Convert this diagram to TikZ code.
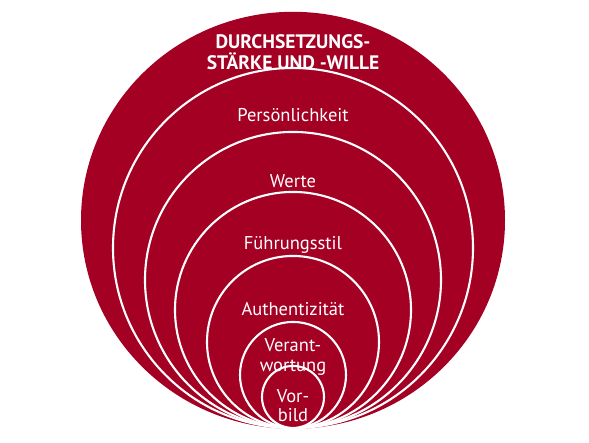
\documentclass[tikz,border=0pt]{standalone}
\usepackage{fontspec}
\setmainfont{PT Sans}
\usepackage{tikz}
\usetikzlibrary{shapes.geometric, positioning}
\definecolor{ringred}{RGB}{163,0,35}

\begin{document}
\begin{tikzpicture}[
    x=1pt, y=1pt,
    outer/.style={ellipse, fill=ringred, inner sep=0pt, minimum width=424pt, minimum height=417pt, anchor=south},
    ring/.style={circle, draw=white, line width=2.1pt, fill=ringred, inner sep=0pt, anchor=south},
    lbl/.style={text=white, align=center, inner sep=0pt, font=\fontsize{18.5}{20}\selectfont},
    head/.style={lbl, font=\fontsize{19.5}{21}\selectfont\bfseries}
]
\useasboundingbox (0,0) rectangle (589,442);

% common bottom point of all rings
\coordinate (base) at (293,13);

% Rings, outside in
\node [outer] (sz) at (base) {};
\node [ring, minimum size=360pt] (pers) at (base) {};
\node [ring, minimum size=296pt] (wer) at (base) {};
\node [ring, minimum size=236pt] (fue) at (base) {};
\node [ring, minimum size=172pt] (aut) at (base) {};
\node [ring, minimum size=106pt] (ver) at (base) {};
\node [ring, minimum size=62pt] (vor) at (base) {};

% Labels
\node [head] (szlbl) at (293,390) {DURCHSETZUNGS-\\STÄRKE UND -WILLE};
\node [lbl] (perslbl) at (293,327) {Persönlichkeit};
\node [lbl] (werlbl) at (293,261) {Werte};
\node [lbl] (fuelbl) at (293,197) {Führungsstil};
\node [lbl] (autlbl) at (293,133) {Authentizität};
\node [lbl] (verlbl) at (293,85) {Verant-\\wortung};
\node [lbl, font=\fontsize{18.5}{19}\selectfont] (vorlbl) at (293,36) {Vor-\\bild};

\end{tikzpicture}
\end{document}
